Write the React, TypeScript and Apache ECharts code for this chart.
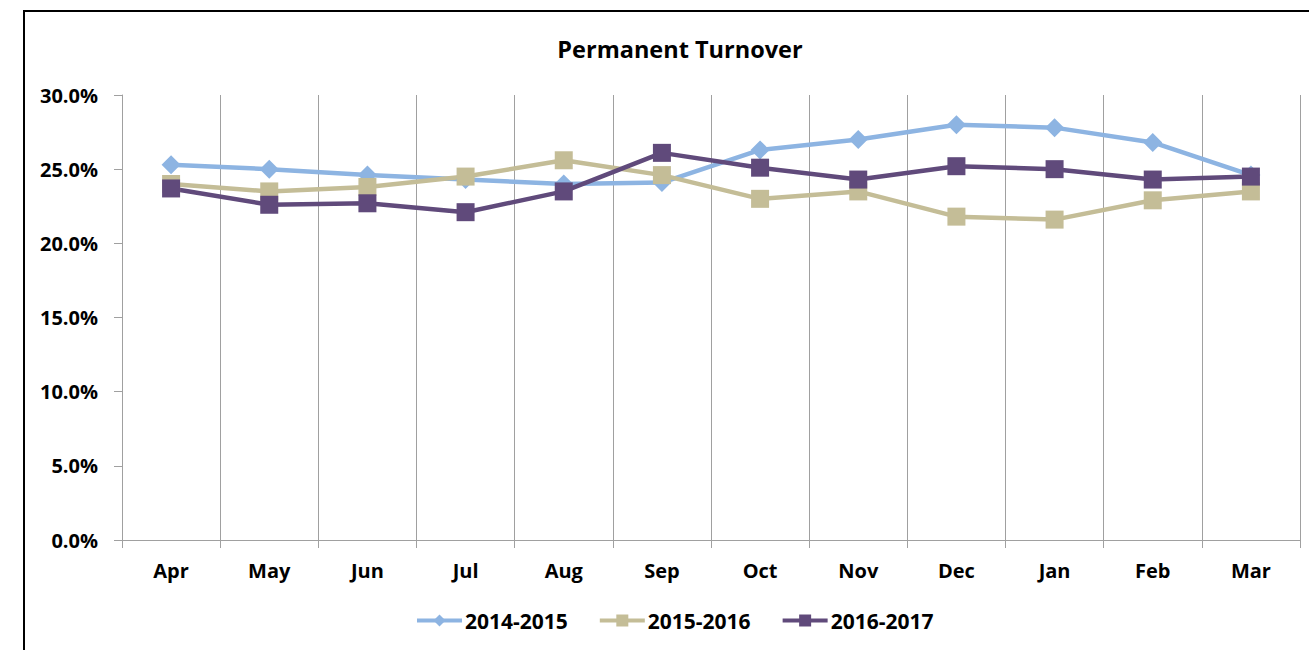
import React, { useEffect, useRef } from "react";
import * as echarts from "echarts";

const categories = ["Apr", "May", "Jun", "Jul", "Aug", "Sep", "Oct", "Nov", "Dec", "Jan", "Feb", "Mar"];
const s2014 = [25.3, 25.0, 24.6, 24.3, 24.0, 24.1, 26.3, 27.0, 28.0, 27.8, 26.8, 24.6];
const s2015 = [24.0, 23.5, 23.8, 24.5, 25.6, 24.6, 23.0, 23.5, 21.8, 21.6, 22.9, 23.5];
const s2016 = [23.7, 22.6, 22.7, 22.1, 23.5, 26.1, 25.1, 24.3, 25.2, 25.0, 24.3, 24.5];
const seriesNames = ["2014-2015", "2015-2016", "2016-2017"];
const yTicks = { min: 0, max: 30, interval: 5 };

const FONT = "'Open Sans', Lato, sans-serif";

export default function App() {
  const ref = useRef<HTMLDivElement>(null);
  useEffect(() => {
    if (!ref.current) return;
    const chart = echarts.init(ref.current, null, { renderer: "svg" });
    chart.setOption({
      animation: false,
      backgroundColor: "#ffffff",
      graphic: [
        {
          type: "rect",
          shape: { x: 24, y: 11, width: 1400, height: 700 },
          style: { fill: "none", stroke: "#000", lineWidth: 2 },
          z: -1,
        },
      ],
      title: {
        text: "Permanent Turnover",
        left: 675,
        top: 32,
        textAlign: "center",
        textStyle: { fontFamily: FONT, fontWeight: "bold", fontSize: 23.5, color: "#000" },
      },
      legend: {
        left: 415,
        top: 610,
        padding: 0,
        itemWidth: 45,
        itemHeight: 15,
        itemGap: 30,
        lineStyle: { width: 4 },
        textStyle: { fontFamily: FONT, fontWeight: "bold", fontSize: 21, color: "#000", padding: [0, 0, 0, -2] },
        data: seriesNames,
      },
      grid: { left: 122, top: 95, right: 9, bottom: 110, containLabel: false },
      xAxis: {
        type: "category",
        data: categories,
        boundaryGap: true,
        axisLine: { show: true, lineStyle: { color: "#a0a0a0", width: 1 } },
        axisTick: { show: true, length: 8, lineStyle: { color: "#a0a0a0" } },
        axisLabel: { margin: 20, fontFamily: FONT, fontWeight: "bold", fontSize: 20, color: "#000" },
        splitLine: { show: true, lineStyle: { color: "#a0a0a0", width: 1 } },
      },
      yAxis: {
        type: "value",
        min: yTicks.min,
        max: yTicks.max,
        interval: yTicks.interval,
        axisLine: { show: true, lineStyle: { color: "#a0a0a0", width: 1 } },
        axisTick: { show: true, inside: false, length: 8, lineStyle: { color: "#a0a0a0" } },
        axisLabel: {
          margin: 24,
          fontFamily: FONT,
          fontWeight: "bold",
          fontSize: 20,
          color: "#000",
          formatter: (v: number) => v.toFixed(1) + "%",
        },
        splitLine: { show: false },
      },
      series: [
        {
          name: seriesNames[0],
          type: "line",
          data: s2014,
          symbol: "diamond",
          symbolSize: 19,
          lineStyle: { color: "#8DB4E2", width: 4.5 },
          itemStyle: { color: "#8DB4E2" },
        },
        {
          name: seriesNames[1],
          type: "line",
          data: s2015,
          symbol: "rect",
          symbolSize: 18,
          lineStyle: { color: "#C4BD97", width: 4.5 },
          itemStyle: { color: "#C4BD97" },
        },
        {
          name: seriesNames[2],
          type: "line",
          data: s2016,
          symbol: "rect",
          symbolSize: 18,
          lineStyle: { color: "#604A7B", width: 4.5 },
          itemStyle: { color: "#604A7B" },
        },
      ],
    });
    return () => chart.dispose();
  }, []);
  return <div ref={ref} style={{ position: "absolute", left: 0, top: 0, width: 1309, height: 650 }} />;
}
